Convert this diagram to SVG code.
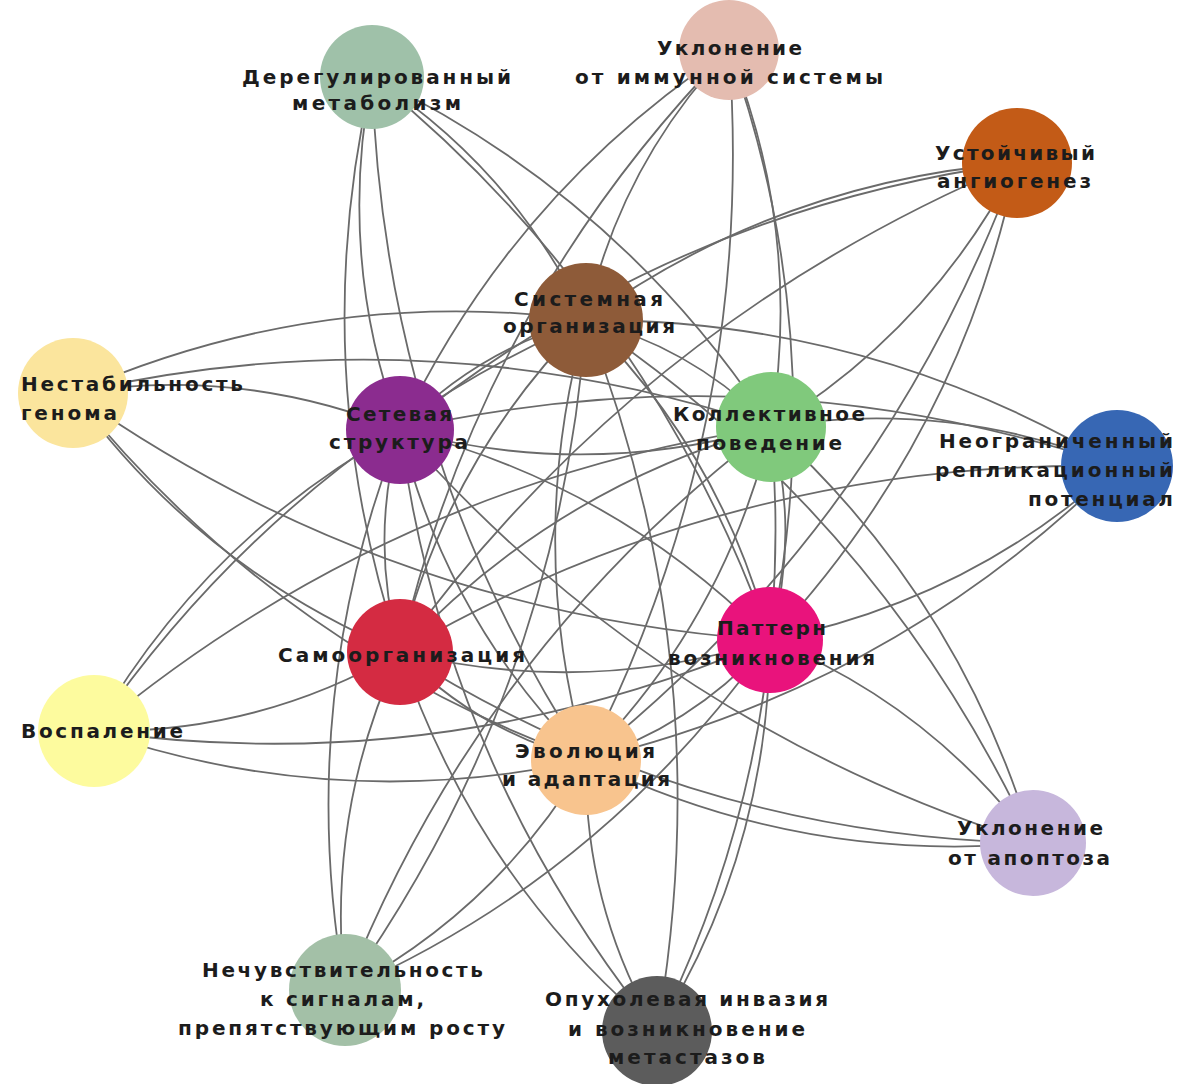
<svg xmlns="http://www.w3.org/2000/svg" width="1193" height="1084" viewBox="0 0 1193 1084">
<style>
.e{fill:none;stroke:#6a6a6a;stroke-width:1.8}
.t{font-family:"DejaVu Sans","Liberation Sans",sans-serif;font-weight:700;font-size:20px;fill:#1c1c1c}
</style>
<rect width="1193" height="1084" fill="#ffffff"/>
<g id="connectors">
<path class="e" d="M372,77 Q513,168.5 586,320"/>
<path class="e" d="M372,77 Q336.6,257.4 400,430"/>
<path class="e" d="M372,77 Q620.5,196.1 771,427"/>
<path class="e" d="M372,77 Q305.5,368.4 400,652"/>
<path class="e" d="M372,77 Q649.8,302.8 770,640"/>
<path class="e" d="M372,77 Q383.4,448.5 586,760"/>
<path class="e" d="M729,50 Q619.7,165 586,320"/>
<path class="e" d="M729,50 Q511.3,193.9 400,430"/>
<path class="e" d="M729,50 Q802.8,232.6 771,427"/>
<path class="e" d="M729,50 Q480.2,304.9 400,652"/>
<path class="e" d="M729,50 Q832.1,339.3 770,640"/>
<path class="e" d="M729,50 Q756.9,425 586,760"/>
<path class="e" d="M1017,163 Q779.5,181.2 586,320"/>
<path class="e" d="M1017,163 Q671.1,210.1 400,430"/>
<path class="e" d="M1017,163 Q931,329.4 771,427"/>
<path class="e" d="M1017,163 Q640,321.1 400,652"/>
<path class="e" d="M1017,163 Q960.3,436.1 770,640"/>
<path class="e" d="M1017,163 Q885.1,521.8 586,760"/>
<path class="e" d="M73,393 Q319.3,284.7 586,320"/>
<path class="e" d="M73,393 Q241.7,365.7 400,430"/>
<path class="e" d="M73,393 Q426.8,312.3 771,427"/>
<path class="e" d="M73,393 Q200.2,568.3 400,652"/>
<path class="e" d="M73,393 Q386.9,614.1 770,640"/>
<path class="e" d="M73,393 Q278.1,648.3 586,760"/>
<path class="e" d="M1117,466 Q871.9,318.7 586,320"/>
<path class="e" d="M1117,466 Q763.5,347.6 400,430"/>
<path class="e" d="M1117,466 Q949.5,398.1 771,427"/>
<path class="e" d="M1117,466 Q732.5,458.6 400,652"/>
<path class="e" d="M1117,466 Q967.9,601.6 770,640"/>
<path class="e" d="M1117,466 Q892.7,687.3 586,760"/>
<path class="e" d="M94,731 Q282.5,456.6 586,320"/>
<path class="e" d="M94,731 Q204.9,537.7 400,430"/>
<path class="e" d="M94,731 Q389.9,484.2 771,427"/>
<path class="e" d="M94,731 Q258.1,734.3 400,652"/>
<path class="e" d="M94,731 Q444.7,780.1 770,640"/>
<path class="e" d="M94,731 Q335.9,814.4 586,760"/>
<path class="e" d="M1033,843 Q882.7,518.9 586,320"/>
<path class="e" d="M1033,843 Q658.7,725.1 400,430"/>
<path class="e" d="M1033,843 Q960.2,598.3 771,427"/>
<path class="e" d="M1033,843 Q689.8,836.1 400,652"/>
<path class="e" d="M1033,843 Q929.9,704.7 770,640"/>
<path class="e" d="M1033,843 Q797.9,864.1 586,760"/>
<path class="e" d="M345,990 Q559.3,688.7 586,320"/>
<path class="e" d="M345,990 Q294.1,702.3 400,430"/>
<path class="e" d="M345,990 Q479.2,648.9 771,427"/>
<path class="e" d="M345,990 Q325.2,813.3 400,652"/>
<path class="e" d="M345,990 Q606.5,874.5 770,640"/>
<path class="e" d="M345,990 Q497.7,908.7 586,760"/>
<path class="e" d="M657,1031 Q721,665.6 586,320"/>
<path class="e" d="M657,1031 Q444.4,766.5 400,430"/>
<path class="e" d="M657,1031 Q798.6,745 771,427"/>
<path class="e" d="M657,1031 Q475.4,877.5 400,652"/>
<path class="e" d="M657,1031 Q768.2,851.3 770,640"/>
<path class="e" d="M657,1031 Q583.6,905.4 586,760"/>
<path class="e" d="M586,320 Q477.6,349 400,430"/>
<path class="e" d="M586,320 Q693.5,347.6 771,427"/>
<path class="e" d="M586,320 Q446.5,460 400,652"/>
<path class="e" d="M586,320 Q722.8,454.2 770,640"/>
<path class="e" d="M586,320 Q524.4,540 586,760"/>
<path class="e" d="M400,430 Q585.9,480.4 771,427"/>
<path class="e" d="M400,430 Q368.9,541 400,652"/>
<path class="e" d="M400,430 Q614.4,483.2 770,640"/>
<path class="e" d="M400,430 Q446.8,621 586,760"/>
<path class="e" d="M771,427 Q554,487.6 400,652"/>
<path class="e" d="M771,427 Q800.3,533.6 770,640"/>
<path class="e" d="M771,427 Q725.1,619.4 586,760"/>
<path class="e" d="M400,652 Q586.7,697.8 770,640"/>
<path class="e" d="M400,652 Q477.9,732 586,760"/>
<path class="e" d="M770,640 Q694.8,725.8 586,760"/>
</g>
<g id="node-metabolism"><circle cx="372" cy="77" r="52" fill="#9fc1a9"/>
<text class="t" x="242" y="84" textLength="269" lengthAdjust="spacing">Дерегулированный</text>
<text class="t" x="292" y="110" textLength="169" lengthAdjust="spacing">метаболизм</text></g>
<g id="node-immune"><circle cx="729" cy="50" r="50" fill="#e4bcb0"/>
<text class="t" x="657" y="55" textLength="145" lengthAdjust="spacing">Уклонение</text>
<text class="t" x="575" y="84" textLength="308" lengthAdjust="spacing">от иммунной системы</text></g>
<g id="node-angiogenesis"><circle cx="1017" cy="163" r="55" fill="#c35b17"/>
<text class="t" x="935" y="160" textLength="160" lengthAdjust="spacing">Устойчивый</text>
<text class="t" x="937" y="188" textLength="154" lengthAdjust="spacing">ангиогенез</text></g>
<g id="node-system"><circle cx="586" cy="320" r="57" fill="#8e5b39"/>
<text class="t" x="514" y="306" textLength="149" lengthAdjust="spacing">Системная</text>
<text class="t" x="503" y="333" textLength="172" lengthAdjust="spacing">организация</text></g>
<g id="node-genome"><circle cx="73" cy="393" r="55" fill="#fbe59d"/>
<text class="t" x="21" y="391" textLength="222" lengthAdjust="spacing">Нестабильность</text>
<text class="t" x="21" y="420" textLength="96" lengthAdjust="spacing">генома</text></g>
<g id="node-network"><circle cx="400" cy="430" r="54" fill="#8b2c8f"/>
<text class="t" x="346" y="421" textLength="106" lengthAdjust="spacing">Сетевая</text>
<text class="t" x="329" y="449" textLength="139" lengthAdjust="spacing">структура</text></g>
<g id="node-collective"><circle cx="771" cy="427" r="55" fill="#80c97c"/>
<text class="t" x="673" y="421" textLength="192" lengthAdjust="spacing">Коллективное</text>
<text class="t" x="696" y="450" textLength="146" lengthAdjust="spacing">поведение</text></g>
<g id="node-replication"><circle cx="1117" cy="466" r="56" fill="#3767b4"/>
<text class="t" x="939" y="448" textLength="234" lengthAdjust="spacing">Неограниченный</text>
<text class="t" x="935" y="477" textLength="238" lengthAdjust="spacing">репликационный</text>
<text class="t" x="1028" y="506" textLength="145" lengthAdjust="spacing">потенциал</text></g>
<g id="node-selforg"><circle cx="400" cy="652" r="53" fill="#d42b42"/>
<text class="t" x="278" y="662" textLength="247" lengthAdjust="spacing">Самоорганизация</text></g>
<g id="node-pattern"><circle cx="770" cy="640" r="53" fill="#e9137c"/>
<text class="t" x="717" y="635" textLength="109" lengthAdjust="spacing">Паттерн</text>
<text class="t" x="668" y="665" textLength="207" lengthAdjust="spacing">возникновения</text></g>
<g id="node-inflammation"><circle cx="94" cy="731" r="56" fill="#fdfb9e"/>
<text class="t" x="21" y="738" textLength="162" lengthAdjust="spacing">Воспаление</text></g>
<g id="node-evolution"><circle cx="586" cy="760" r="55" fill="#f8c48e"/>
<text class="t" x="515" y="758" textLength="140" lengthAdjust="spacing">Эволюция</text>
<text class="t" x="502" y="786" textLength="168" lengthAdjust="spacing">и адаптация</text></g>
<g id="node-apoptosis"><circle cx="1033" cy="843" r="53" fill="#c7b7dc"/>
<text class="t" x="957" y="835" textLength="146" lengthAdjust="spacing">Уклонение</text>
<text class="t" x="948" y="865" textLength="162" lengthAdjust="spacing">от апоптоза</text></g>
<g id="node-insensitivity"><circle cx="345" cy="990" r="56" fill="#a3c0a7"/>
<text class="t" x="202" y="977" textLength="281" lengthAdjust="spacing">Нечувствительность</text>
<text class="t" x="260" y="1006" textLength="164" lengthAdjust="spacing">к сигналам,</text>
<text class="t" x="178" y="1035" textLength="327" lengthAdjust="spacing">препятствующим росту</text></g>
<g id="node-invasion"><circle cx="657" cy="1031" r="55" fill="#5c5c5c"/>
<text class="t" x="545" y="1006" textLength="283" lengthAdjust="spacing">Опухолевая инвазия</text>
<text class="t" x="568" y="1036" textLength="237" lengthAdjust="spacing">и возникновение</text>
<text class="t" x="608" y="1064" textLength="157" lengthAdjust="spacing">метастазов</text></g>
</svg>
